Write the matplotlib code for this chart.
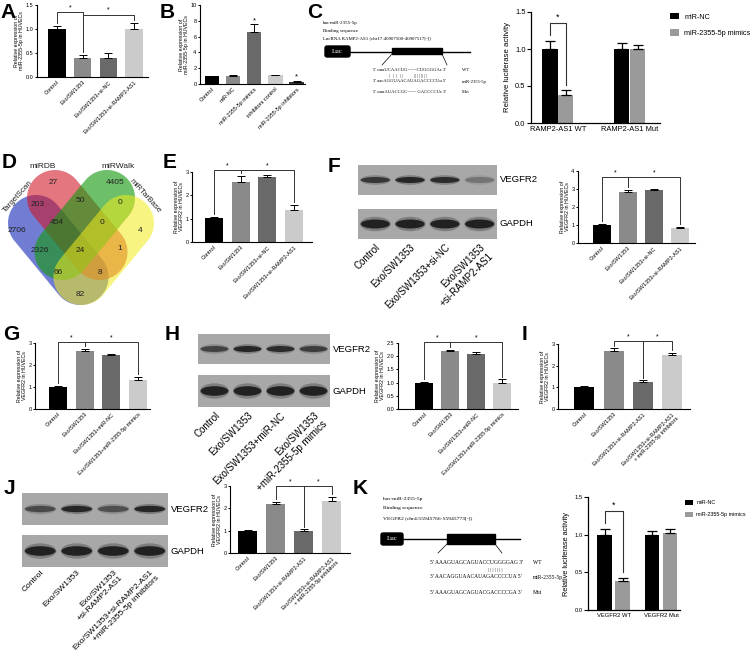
import numpy as np
import matplotlib
matplotlib.use("Agg")
import matplotlib.pyplot as plt
from matplotlib.patches import Ellipse, Rectangle, FancyBboxPatch, Polygon
from matplotlib.ticker import FormatStrFormatter

plt.rcParams['font.family'] = ['Liberation Sans', 'DejaVu Sans']

W, H = 753, 659
fig = plt.figure(figsize=(W / 100, H / 100), dpi=100)

# ---------------- data ----------------
grp_si = ["Control", "Exo/SW1353", "Exo/SW1353+si-NC", "Exo/SW1353+si-RAMP2-AS1"]
grp_b = ["Control", "miR-NC", "miR-2355-5p mimics", "inhibitors control", "miR-2355-5p inhibitors"]
grp_mim = ["Control", "Exo/SW1353", "Exo/SW1353+miR-NC", "Exo/SW1353+miR-2355-5p mimics"]
grp_inh = ["Control", "Exo/SW1353", "Exo/SW1353+si-RAMP2-AS1",
           "Exo/SW1353+si-RAMP2-AS1\n+ miR-2355-5p inhibitors"]

a_vals = [1.0, 0.40, 0.40, 1.0]
a_err = [0.06, 0.06, 0.09, 0.13]
b_vals = [1.0, 1.0, 6.6, 1.1, 0.3]
b_err = [0.05, 0.12, 0.95, 0.08, 0.1]
e_vals = [1.02, 2.57, 2.78, 1.38]
e_err = [0.04, 0.28, 0.1, 0.2]
f_vals = [1.0, 2.85, 2.92, 0.82]
f_err = [0.08, 0.12, 0.1, 0.07]
g_vals = [1.0, 2.65, 2.45, 1.3]
g_err = [0.06, 0.1, 0.07, 0.17]
h_vals = [1.0, 2.18, 2.1, 1.0]
h_err = [0.03, 0.05, 0.05, 0.12]
i_vals = [1.0, 2.7, 1.25, 2.5]
i_err = [0.04, 0.1, 0.08, 0.1]
j_vals = [1.0, 2.2, 1.0, 2.35]
j_err = [0.05, 0.1, 0.06, 0.15]

c_groups = ["RAMP2-AS1 WT", "RAMP2-AS1 Mut"]
c_nc, c_nc_err = [1.0, 1.0], [0.11, 0.08]
c_mim, c_mim_err = [0.38, 1.0], [0.06, 0.06]
k_groups = ["VEGFR2 WT", "VEGFR2 Mut"]
k_nc, k_nc_err = [1.0, 1.0], [0.07, 0.05]
k_mim, k_mim_err = [0.38, 1.02], [0.05, 0.05]

venn_names = ["TargetScan", "miRDB", "miRWalk", "miRTarBase"]
venn_counts = {"1000": 2706, "0100": 27, "0010": 4405, "0001": 4,
               "1100": 203, "0110": 50, "0011": 0, "1110": 454, "0111": 0,
               "1010": 2326, "0101": 1, "1111": 24, "1011": 66, "1101": 8, "1001": 82}

blot_f = [0.75, 0.9, 0.85, 0.3]
blot_h = [0.65, 0.9, 0.85, 0.7]
blot_j = [0.6, 0.9, 0.55, 0.9]
gapdh = [0.95, 0.95, 0.95, 0.95]

lanes_f = ["Control", "Exo/SW1353", "Exo/SW1353+si-NC", "Exo/SW1353\n+si-RAMP2-AS1"]
lanes_h = ["Control", "Exo/SW1353", "Exo/SW1353+miR-NC", "Exo/SW1353\n+miR-2355-5p mimics"]
lanes_j = ["Control", "Exo/SW1353", "Exo/SW1353\n+si-RAMP2-AS1",
           "Exo/SW1353+si-RAMP2-AS1\n+miR-2355-5p inhibitors"]

c_seq = ["5' uuuUCAACUG------CUGGGGAc 3'", "|   |   |   | |           | | | | | | | |",
         "3' aacAGGUAACAUAGACCCCUu 5'", "5' uuuAUACCGC------ GACCCCUc 3'"]
k_seq = ["5' AAAGUAGCAGUACCUGGGGAG 3'", "| | | | | | |",
         "3' AACAGGUAACAUAGACCCCUA 5'", "5' AAAGUAGCAGUACGACCCCGA 3'"]
seq_tags = ["WT", "", "miR-2355-5p", "Mut"]

bar4 = ["#000000", "#8a8a8a", "#696969", "#cbcbcb"]
bar5 = ["#000000", "#8a8a8a", "#696969", "#cbcbcb", "#333333"]
rel_mir = "Relative expression of\nmiR-2355-5p in HUVECs"
rel_vegf = "Relative expression of\nVEGFR2 in HUVECs"


def px(l, t, r, b):
    return [l / W, 1 - b / H, (r - l) / W, (b - t) / H]


def style(ax, lw=0.8):
    for s in ['top', 'right']:
        ax.spines[s].set_visible(False)
    for s in ['left', 'bottom']:
        ax.spines[s].set_linewidth(lw)


def bar_chart(box, vals, errs, colors, labels, ymax, ystep, ylabel, fmt,
              xlim=(-0.85, 3.6), brackets=(), stars=(), fs=4.0):
    ax = fig.add_axes(px(*box))
    x = np.arange(len(vals))
    ax.bar(x, vals, 0.68, color=colors, zorder=2)
    ax.errorbar(x, vals, yerr=[np.zeros(len(vals)), errs], fmt='none', ecolor='k',
                elinewidth=0.7, capsize=2.6, capthick=0.7, zorder=3)
    ax.set_xlim(*xlim)
    ax.set_ylim(0, ymax)
    ax.set_yticks(np.arange(0, ymax + 1e-9, ystep))
    ax.yaxis.set_major_formatter(FormatStrFormatter(fmt))
    ax.set_xticks(x)
    ax.set_xticklabels(labels, rotation=45, ha='right', rotation_mode='anchor', fontsize=fs)
    ax.tick_params(axis='x', length=0, pad=2)
    ax.tick_params(axis='y', labelsize=fs, length=1.8, width=0.7, pad=0.8)
    ax.set_ylabel(ylabel, fontsize=fs - 0.2, labelpad=1.0, linespacing=1.0)
    style(ax)
    for i, j, h in brackets:
        yi = vals[i] + errs[i] + ymax * 0.04
        yj = vals[j] + errs[j] + ymax * 0.04
        ax.plot([i, i, j, j], [yi, h, h, yj], color='#333333', lw=0.7, clip_on=False)
        ax.text((i + j) / 2, h + ymax * 0.01, '*', ha='center', va='bottom', fontsize=fs + 1)
    for i in stars:
        ax.text(i, vals[i] + errs[i], '*', ha='center', va='bottom', fontsize=fs + 1.5)
    return ax


def luc_chart(box, groups, nc, nce, mim, mime, xlim, off, bw, star_h, fs, fs_t, fs_leg,
              leg_xy, hl):
    ax = fig.add_axes(px(*box))
    x = np.arange(len(groups))
    ax.bar(x - off, nc, bw, color='#000000', label='miR-NC', zorder=2)
    ax.bar(x + off, mim, bw, color='#9a9a9a', label='miR-2355-5p mimics', zorder=2)
    ax.errorbar(x - off, nc, yerr=[np.zeros(2), nce], fmt='none', ecolor='k',
                elinewidth=0.9, capsize=3.5, capthick=0.9, zorder=3)
    ax.errorbar(x + off, mim, yerr=[np.zeros(2), mime], fmt='none', ecolor='k',
                elinewidth=0.9, capsize=3.5, capthick=0.9, zorder=3)
    ax.set_xlim(*xlim)
    ax.set_ylim(0, 1.5)
    ax.set_yticks([0, 0.5, 1.0, 1.5])
    ax.yaxis.set_major_formatter(FormatStrFormatter('%.1f'))
    ax.set_xticks(x)
    ax.set_xticklabels(groups, fontsize=fs_t)
    ax.tick_params(axis='x', length=0, pad=2)
    ax.tick_params(axis='y', labelsize=fs_t, length=3, width=0.8, pad=1)
    ax.set_ylabel('Relative luciferase activity', fontsize=fs, labelpad=3)
    style(ax, 0.9)
    yi = nc[0] + nce[0] + 0.08
    yj = mim[0] + mime[0] + 0.08
    ax.plot([-off, -off, off, off], [yi, star_h, star_h, yj], color='#333333', lw=0.8)
    ax.text(0, star_h + 0.02, '*', ha='center', va='bottom', fontsize=fs + 1)
    ax.legend(loc='upper left', bbox_to_anchor=(leg_xy[0] / W, 1 - leg_xy[1] / H),
              bbox_transform=fig.transFigure, frameon=False, handlelength=hl,
              handleheight=1.0, labelspacing=1.2, borderpad=0, handletextpad=0.7,
              borderaxespad=0, prop={'size': fs_leg})
    return ax


def blot(box, levels, thick, label, lanes=None, lfs=7.0, pad=2.5):
    ax = fig.add_axes(px(*box))
    ax.set_facecolor('#a8a8a8')
    ax.set_xlim(-0.5, len(levels) - 0.5)
    ax.set_ylim(0, 1)
    for i, v in enumerate(levels):
        ax.add_patch(Ellipse((i, 0.5), 0.88, thick * 1.6, color='#505050', alpha=0.5 * v, lw=0))
        ax.add_patch(Ellipse((i, 0.5), 0.84, thick, color='#1c1c1c', alpha=v, lw=0))
    for s in ax.spines.values():
        s.set_visible(False)
    ax.set_yticks([])
    if lanes:
        ax.set_xticks(range(len(lanes)))
        ax.set_xticklabels(lanes, rotation=45, ha='right', rotation_mode='anchor', fontsize=lfs)
        ax.tick_params(axis='x', length=0, pad=pad)
    else:
        ax.set_xticks([])
    ax.text(1.02, 0.5, label, transform=ax.transAxes, va='center', ha='left', fontsize=6.8)


# ---------------- bar panels ----------------
bar_chart((37, 5, 148, 77), a_vals, a_err, bar4, grp_si, 1.5, 0.5, rel_mir, '%.1f',
          xlim=(-0.78, 3.55), brackets=[(0, 1, 1.35), (1, 3, 1.3)])
bar_chart((200, 5, 305, 84), b_vals, b_err, bar5, grp_b, 10, 2, rel_mir, '%d',
          xlim=(-0.56, 4.4), stars=[2, 4])
bar_chart((192, 172, 312, 242), e_vals, e_err, bar4, grp_si, 3, 1, rel_vegf, '%d',
          xlim=(-0.82, 3.67), brackets=[(0, 1, 3.1), (1, 3, 3.1)])
bar_chart((578, 171, 695, 243), f_vals, f_err, bar4, grp_si, 4, 1, rel_vegf, '%d',
          xlim=(-0.92, 3.58), brackets=[(0, 1, 3.65), (1, 3, 3.65)])
bar_chart((35, 343, 150, 409), g_vals, g_err, bar4, grp_mim, 3, 1, rel_vegf, '%d',
          xlim=(-0.86, 3.45), brackets=[(0, 1, 3.05), (1, 3, 3.05)])
bar_chart((398, 343, 518, 409), h_vals, h_err, bar4, grp_mim, 2.5, 0.5, rel_vegf, '%.1f',
          xlim=(-1.0, 3.6), brackets=[(0, 1, 2.55), (1, 3, 2.55)])
bar_chart((558, 344, 690, 409), i_vals, i_err, bar4, grp_inh, 3, 1, rel_vegf, '%d',
          xlim=(-0.9, 3.6), brackets=[(1, 2, 3.13), (2, 3, 3.13)])
bar_chart((230, 486, 350, 553), j_vals, j_err, bar4, grp_inh, 3, 1, rel_vegf, '%d',
          xlim=(-0.64, 3.65), brackets=[(1, 2, 3.0), (2, 3, 3.0)])

luc_chart((531, 12, 660, 123), c_groups, c_nc, c_nc_err, c_mim, c_mim_err,
          (-0.375, 1.42), 0.11, 0.21, 1.35, 5.6, 5.4, 5.2, (670, 13), 1.3)
luc_chart((588, 497, 680, 610), k_groups, k_nc, k_nc_err, k_mim, k_mim_err,
          (-0.54, 1.4), 0.19, 0.31, 1.31, 5.3, 4.2, 3.9, (685, 500), 1.4)

# ---------------- western blots ----------------
blot((358, 165, 497, 195), blot_f, 0.2, 'VEGFR2')
blot((358, 209, 497, 239), gapdh, 0.3, 'GAPDH', lanes_f)
blot((198, 334, 330, 364), blot_h, 0.2, 'VEGFR2')
blot((198, 375, 330, 407), gapdh, 0.3, 'GAPDH', lanes_h)
blot((22, 493, 168, 525), blot_j, 0.2, 'VEGFR2')
blot((22, 535, 168, 567), gapdh, 0.3, 'GAPDH', lanes_j, lfs=6.0, pad=1.5)

# ---------------- venn (D), drawn in pixel units ----------------
vax = fig.add_axes(px(0, 150, 170, 320))
vax.set_xlim(0, 170)
vax.set_ylim(320, 150)
vax.axis('off')


def stadium(p1, p2, r, color, n=40):
    p1, p2 = np.array(p1, float), np.array(p2, float)
    d = p2 - p1
    ang = np.arctan2(d[1], d[0])
    t1 = np.linspace(ang + np.pi / 2, ang + 3 * np.pi / 2, n)
    t2 = np.linspace(ang - np.pi / 2, ang + np.pi / 2, n)
    pts = np.vstack([p1 + r * np.c_[np.cos(t1), np.sin(t1)],
                     p2 + r * np.c_[np.cos(t2), np.sin(t2)]])
    return Polygon(pts, closed=True, facecolor=color, lw=0)


shapes = [((36, 223), (80.5, 277), (0.10, 0.18, 0.72, 0.62)),
          ((55, 198), (99.5, 252), (0.82, 0.08, 0.14, 0.58)),
          ((107, 198), (62.5, 252), (0.08, 0.60, 0.06, 0.62)),
          ((126, 223), (81.5, 277), (0.95, 0.92, 0.10, 0.55))]
for p1, p2, col in shapes:
    vax.add_patch(stadium(p1, p2, 28, col))
spots = {"1000": (17, 230), "0100": (53, 183), "0010": (115, 183), "0001": (140, 230),
         "1100": (38, 204), "0110": (80, 200), "0011": (120, 203), "1110": (57, 223),
         "0111": (102, 223), "1010": (40, 250), "1111": (80, 250), "0101": (120, 249),
         "1011": (58, 273), "1101": (100, 273), "1001": (80, 294)}
for key, (xx, yy) in spots.items():
    vax.text(xx, yy, str(venn_counts[key]), ha='center', va='center', fontsize=6.0, color='#222222')
vax.text(18, 197, venn_names[0], rotation=48, ha='center', va='center', fontsize=5.8, color='#222222')
vax.text(43, 166, venn_names[1], ha='center', va='center', fontsize=6.0, color='#222222')
vax.text(118, 166, venn_names[2], ha='center', va='center', fontsize=6.0, color='#222222')
vax.text(145, 196, venn_names[3], rotation=-48, ha='center', va='center', fontsize=5.8, color='#222222')

# ---------------- overlay: letters and diagrams ----------------
ov = fig.add_axes([0, 0, 1, 1], zorder=10)
ov.set_xlim(0, W)
ov.set_ylim(H, 0)
ov.axis('off')

letters = {"A": (0, 13), "B": (160, 12), "C": (307, 12), "D": (2, 162), "E": (163, 163),
           "F": (328, 166), "G": (3, 334), "H": (165, 334), "I": (522, 334),
           "J": (4, 488), "K": (353, 488)}
for k, (lx, ly) in letters.items():
    ov.text(lx, ly, k, fontsize=15, fontweight='bold', ha='left', va='center')

serif = ['Liberation Serif', 'DejaVu Serif']


def construct(x0, ytop, dy, header, seqs, luc, bar, diag, seq_x, seq_y, tag_x, fs_h, fs_s):
    for n, line in enumerate(header):
        ov.text(x0, ytop + n * dy, line, fontsize=fs_h, family=serif, va='center')
    lx0, ly0, lx1, ly1 = luc
    ov.add_patch(FancyBboxPatch((lx0, ly0), lx1 - lx0, ly1 - ly0,
                                boxstyle='round,pad=0,rounding_size=2', color='k'))
    ov.text((lx0 + lx1) / 2, (ly0 + ly1) / 2, 'Luc', color='w', fontsize=5.0,
            family=serif, ha='center', va='center')
    ymid = (ly0 + ly1) / 2
    ov.plot([lx1, bar[4]], [ymid, ymid], color='k', lw=1.0)
    ov.add_patch(Rectangle((bar[0], bar[1]), bar[2] - bar[0], bar[3] - bar[1], color='k'))
    ov.plot([bar[0], diag[0]], [bar[3], diag[1]], color='k', lw=0.5)
    ov.plot([bar[2], diag[2]], [bar[3], diag[1]], color='k', lw=0.5)
    for s, yy, tag in zip(seqs, seq_y, seq_tags):
        xx = seq_x[0] if s[0] != '|' else seq_x[1]
        ov.text(xx, yy, s, fontsize=fs_s if s[0] != '|' else fs_s * 0.9,
                family=serif, va='center')
        if tag:
            ov.text(tag_x, yy, tag, fontsize=fs_s, family=serif, va='center')


construct(323, 23, 7.6, ["has-miR-2355-5p", "Binding sequence",
                         "LncRNA RAMP2-AS1 (chr17:40907500-40907517[-])"],
          c_seq, (325, 46, 350, 57), (392, 48, 442, 54, 470), (382, 65, 447),
          (373, 389), [70, 76, 81.5, 92], 462, 3.5, 3.35)
construct(383, 499, 9.5, ["has-miR-2355-5p", "Binding sequence",
                          "VEGFR2 (chr4:55945766-55945773[-])"],
          k_seq, (381, 533, 403, 545), (447, 534, 495, 544, 520), (438, 553, 502),
          (430, 488), [562, 569.5, 577, 593], 533, 3.95, 4.0)

fig.savefig("out.png", dpi=100)
